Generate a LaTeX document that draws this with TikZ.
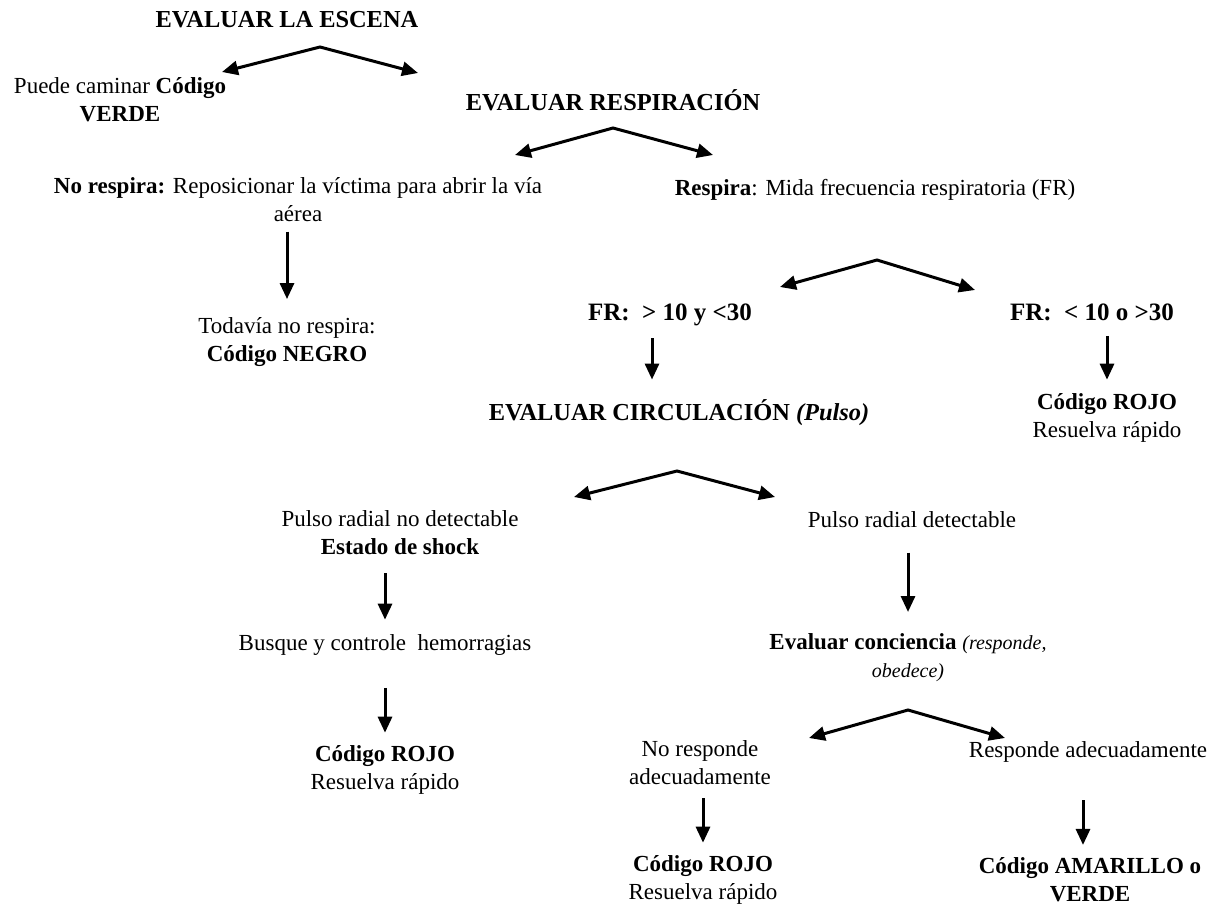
\documentclass[tikz,border=0pt]{standalone}
\usepackage{fontspec}
\setmainfont{Liberation Serif}
\usetikzlibrary{arrows.meta}
\tikzset{
	txt/.style={inner sep=0pt, align=center, font=\fontsize{11.5}{14}\selectfont},
	titulo/.style={txt, font=\fontsize{12.2}{14}\selectfont\bfseries},
	fr/.style={txt, font=\fontsize{12.5}{14}\selectfont\bfseries},
	flecha/.style={line width=1.5pt, -{Triangle[length=8pt,width=7pt]}},
	horquilla/.style={line width=1.5pt, {Triangle[length=8pt,width=7pt]}-{Triangle[length=8pt,width=7pt]}},
}
\newcommand{\nota}[1]{{\fontsize{10}{14}\selectfont\itshape #1}}
\begin{document}
\begin{tikzpicture}[x=0.5pt,y=-0.5pt]
		%%%%% START %%%%%
		\useasboundingbox (0,0) rectangle (1215,906);
		
		\node[titulo] (escena) at (287,20) {EVALUAR LA ESCENA};
		\node[txt] (caminar) at (120,100) {Puede caminar \textbf{Código}\\\textbf{VERDE}};
		\node[titulo] (resp) at (613,100) {EVALUAR RESPIRACIÓN};
		
		\coordinate (f1) at (320,47);
		\coordinate (f1l) at (222,72);
		\coordinate (f1r) at (418,73);
		\draw[horquilla] (f1l) -- (f1) -- (f1r);
		
		\node[txt] (norespira) at (298,200) {\textbf{No respira:} Reposicionar la víctima para abrir la vía\\aérea};
		\node[txt] (respira) at (875,190) {\textbf{Respira}: Mida frecuencia respiratoria (FR)};
		
		\coordinate (f2) at (613,128);
		\coordinate (f2l) at (515,155);
		\coordinate (f2r) at (713,155);
		\draw[horquilla] (f2l) -- (f2) -- (f2r);
		
		\node[txt] (negro) at (287,342) {Todavía no respira:\\\textbf{Código NEGRO}};
		\draw[flecha, shorten <=4.5pt, shorten >=9pt] (negro.north |- norespira.south) -- (negro.north);
		
		\coordinate (f3) at (877,260);
		\coordinate (f3l) at (780,287);
		\coordinate (f3r) at (975,290);
		\draw[horquilla] (f3l) -- (f3) -- (f3r);
		
		\node[fr] (frbien) at (670,315) {FR:~ \textgreater{} 10 y \textless30};
		\node[fr] (frmal) at (1092,312) {FR:~ \textless{} 10 o \textgreater30};
		\node[titulo] (circ) at (679,413) {EVALUAR CIRCULACIÓN \textit{(Pulso)}};
		\node[txt] (rojoa) at (1107,418) {\textbf{Código ROJO}\\Resuelva rápido};
		\draw[flecha, shorten <=6pt, shorten >=10pt] ([xshift=-9pt]frbien.south) -- ([xshift=-9pt]frbien.south |- circ.north);
		\draw[flecha, shorten <=7.5pt, shorten >=6.75pt] (rojoa.north |- frmal.south) -- (rojoa.north);
		
		\coordinate (f4) at (677,471);
		\coordinate (f4l) at (574,497);
		\coordinate (f4r) at (775,497);
		\draw[horquilla] (f4l) -- (f4) -- (f4r);
		
		\node[txt] (nopulso) at (400,533) {Pulso radial no detectable\\\textbf{Estado de shock}};
		\node[txt] (busque) at (385,645) {Busque y controle~ hemorragias};
		\node[txt] (rojob) at (385,770) {\textbf{Código ROJO}\\Resuelva rápido};
		\draw[flecha, shorten <=8.75pt, shorten >=7.25pt] (busque.north |- nopulso.south) -- (busque.north);
		\draw[flecha, shorten <=16pt, shorten >=6.25pt] (busque.south) -- (rojob.north);
		
		\node[txt] (sipulso) at (912,520) {Pulso radial detectable};
		\node[txt] (conciencia) at (908,658) {\textbf{Evaluar conciencia} \nota{(responde,}\\\nota{obedece)}};
		\draw[flecha, shorten <=12pt, shorten >=10.75pt] (conciencia.north |- sipulso.south) -- (conciencia.north);
		
		\coordinate (f5) at (908,710);
		\coordinate (f5l) at (809,738);
		\coordinate (f5r) at (1005,738);
		\draw[horquilla] (f5l) -- (f5) -- (f5r);
		
		\node[txt] (noresp) at (700,763) {No responde\\adecuadamente};
		\node[txt] (siresp) at (1088,752) {Responde adecuadamente};
		\node[txt] (rojoc) at (703,880) {\textbf{Código ROJO}\\Resuelva rápido};
		\node[txt] (amarillo) at (1090,880) {\textbf{Código AMARILLO o}\\\textbf{VERDE}};
		\draw[flecha, shorten <=6.25pt, shorten >=6.25pt] (rojoc.north |- noresp.south) -- (rojoc.north);
		\draw[flecha, shorten <=18.75pt, shorten >=6.25pt] ([xshift=-2.5pt]siresp.south) -- ([xshift=-2.5pt]siresp.south |- amarillo.north);
		
		%%%%% END %%%%%
	\end{tikzpicture}
\end{document}
